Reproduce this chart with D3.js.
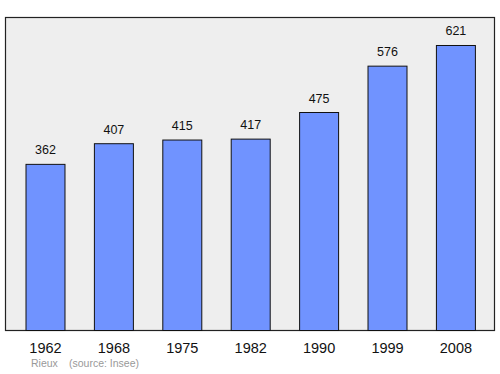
<!DOCTYPE html>
<html><head><meta charset="utf-8">
<script src="https://cdn.jsdelivr.net/npm/d3@7"></script>
<style>body{margin:0;background:#fff}svg{display:block;font-family:"Liberation Sans",Arial,sans-serif}</style>
</head><body>
<script>
const years = ["1962","1968","1975","1982","1990","1999","2008"];
const population = [362,407,415,417,475,576,621];
const place = "Rieux";
const source = "(source: Insee)";

const W=500,H=374;
const svg=d3.select("body").append("svg").attr("width",W).attr("height",H);
const plot={l:5.5,t:17.5,r:494.5,b:330.5};
svg.append("rect").attr("x",plot.l).attr("y",plot.t).attr("width",plot.r-plot.l).attr("height",plot.b-plot.t)
  .attr("fill","#eeeeee").attr("stroke","#222").attr("stroke-width",1.2);

const x=d3.scaleBand().domain(years).range([26,475.4]).paddingInner(0.43).paddingOuter(0);
const y=d3.scaleLinear().domain([0,682]).range([330.5,17.5]);

const g=svg.append("g");
g.selectAll("rect.bar").data(years).join("rect").attr("class","bar")
  .attr("x",d=>x(d)).attr("width",x.bandwidth())
  .attr("y",(d,i)=>y(population[i])).attr("height",(d,i)=>y(0)-y(population[i]))
  .attr("fill","#7093ff").attr("stroke","#111").attr("stroke-width",1);
g.selectAll("text.val").data(years).join("text").attr("class","val")
  .attr("x",d=>x(d)+x.bandwidth()/2).attr("y",(d,i)=>y(population[i])-10)
  .attr("text-anchor","middle").attr("font-size",12.5).attr("fill","#111")
  .text((d,i)=>population[i]);

const ax=svg.append("g").attr("transform",`translate(0,${plot.b})`)
  .call(d3.axisBottom(x).tickSize(0).tickPadding(12));
ax.select(".domain").remove();
ax.selectAll("text").attr("font-size",14.5).attr("fill","#111").attr("font-family","Liberation Sans, Arial, sans-serif");

svg.append("text").attr("x",31).attr("y",367).attr("font-size",10.5).attr("fill","#999").text(place);
svg.append("text").attr("x",69).attr("y",367).attr("font-size",10.5).attr("fill","#999").text(source);
</script>
</body></html>
